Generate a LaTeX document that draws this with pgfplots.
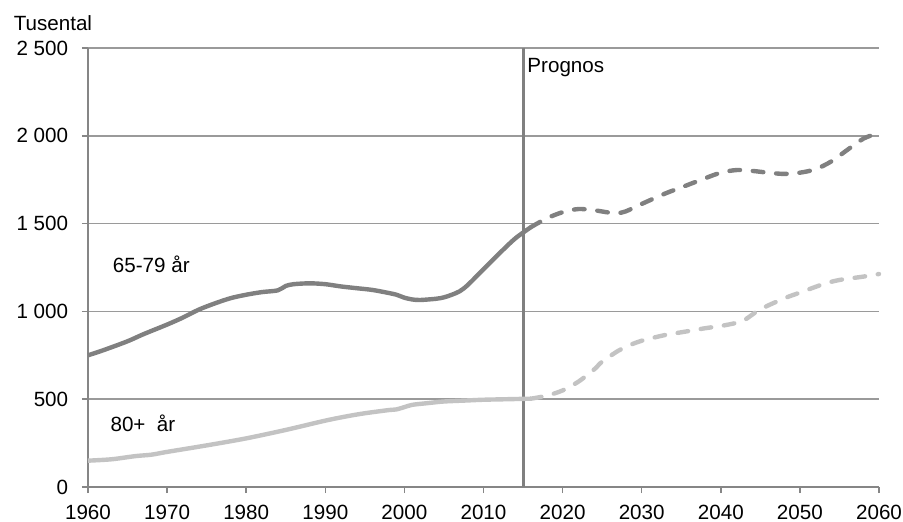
\documentclass[border=0pt]{standalone}
\usepackage{fontspec}
\setmainfont{Liberation Sans}
\usepackage{pgfplots}
\pgfplotsset{compat=1.18}

\definecolor{mork}{HTML}{808080}
\definecolor{ljus}{HTML}{C3C3C3}
\definecolor{rutnat}{HTML}{9A9A9A}
\definecolor{axel}{HTML}{868686}

\begin{document}
\begin{tikzpicture}[font=\fontsize{10.3pt}{12pt}\selectfont]
% same frame as the reference: 1px = 0.5pt
\path[use as bounding box] (-44pt,-17pt) rectangle (407.5pt,243.5pt);
\begin{axis}[
  scale only axis,
  width=395.5pt, height=219.5pt,
  xmin=1960, xmax=2060, ymin=0, ymax=2500,
  xtick={1960,1970,...,2060},
  ytick={0,500,...,2500},
  yticklabels={0,500,1 000,1 500,2 000,2 500},
  /pgf/number format/1000 sep={},
  /pgf/number format/assume math mode=true,
  axis x line*=bottom, axis y line*=left,
  axis line style={axel, line width=0.75pt, -},
  tick pos=left, tick align=outside,
  major tick length=3pt,
  tick style={axel, line width=0.75pt},
  ymajorgrids,
  grid style={rutnat, line width=0.75pt},
  xticklabel style={yshift=-2.3pt},
  yticklabel style={xshift=-3.4pt},
  clip=false,
]
% Prognos line
\addplot[mork, line width=1.5pt] coordinates {(2015,0) (2015,2500)};

% 65-79 years
\addplot[mork, line width=2.2pt, smooth, tension=0.5] coordinates {
(1960,750) (1962,780) (1965,830) (1967,870) (1970,925) (1972,965)
(1974,1010) (1976,1045) (1978,1075) (1980,1095) (1982,1110) (1984,1120)
(1985,1145) (1986,1155) (1988,1160) (1990,1155) (1992,1142) (1994,1132)
(1996,1122) (1998,1105) (1999,1095) (2000,1078) (2001,1068) (2002,1065)
(2004,1072) (2005,1080) (2006,1095) (2007,1115) (2008,1150) (2010,1240)
(2012,1330) (2014,1415) (2016,1480)};
\addplot[mork, line width=2.2pt, smooth, tension=0.5, line cap=round,
  dash pattern=on 5.3pt off 6.4pt] coordinates {
(2016,1480) (2018,1530) (2020,1565) (2022,1583) (2024,1576) (2026,1562)
(2027,1560) (2028,1570) (2030,1612) (2033,1672) (2035,1706) (2038,1758)
(2040,1790) (2042,1805) (2044,1800) (2046,1790) (2048,1783) (2050,1790)
(2052,1810) (2054,1855) (2056,1920) (2058,1983) (2060,2018)};

% 80+ years
\addplot[ljus, line width=2.2pt, smooth, tension=0.5] coordinates {
(1960,150) (1963,158) (1966,176) (1968,184) (1970,200) (1975,237)
(1980,277) (1985,325) (1990,378) (1993,405) (1995,420) (1998,438)
(1999,442) (2000,455) (2001,468) (2003,478) (2005,487) (2008,493)
(2010,497) (2013,500) (2016,503)};
\addplot[ljus, line width=2.2pt, smooth, tension=0.5, line cap=round,
  dash pattern=on 5.3pt off 6.4pt] coordinates {
(2016,503) (2018,520) (2020,550) (2022,600) (2024,670) (2025,714)
(2027,775) (2028,799) (2030,833) (2033,866) (2035,881) (2038,904)
(2040,917) (2042,935) (2043,951) (2045,1012) (2048,1074) (2050,1107)
(2053,1156) (2055,1179) (2058,1198) (2060,1213)};

\node[anchor=north west, inner sep=0pt, xshift=2pt, yshift=-5pt] at (axis cs:2015,2500) {Prognos};
\node[anchor=base west, inner sep=0pt] at (axis cs:1963.1,1219) {65-79 år};
\node[anchor=base west, inner sep=0pt] at (axis cs:1962.8,315) {80+\ \ år};
\node[anchor=base west, inner sep=0pt, xshift=-37.3pt, yshift=8.6pt] at (rel axis cs:0,1) {Tusental};
\end{axis}
\end{tikzpicture}
\end{document}
